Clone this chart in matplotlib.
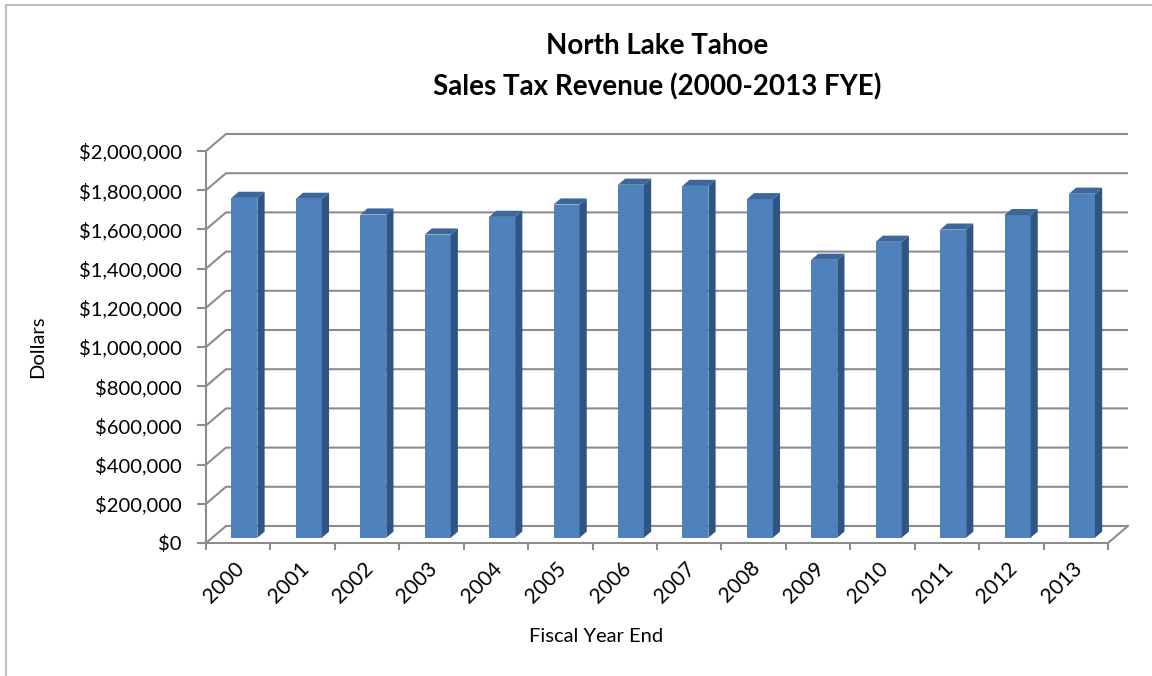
import matplotlib
matplotlib.use("Agg")
import matplotlib.pyplot as plt
from matplotlib.patches import Polygon, Rectangle
from matplotlib.transforms import ScaledTranslation
from matplotlib.ticker import FuncFormatter

plt.rcParams['font.family'] = ['Lato', 'DejaVu Sans']

# fiscal year end and sales tax revenue
years = ['2000', '2001', '2002', '2003', '2004', '2005', '2006',
         '2007', '2008', '2009', '2010', '2011', '2012', '2013']
revenue = [1734000, 1729000, 1649000, 1547000, 1637000, 1700000, 1801000,
           1795000, 1727000, 1418000, 1510000, 1572000, 1646000, 1755000]
yticks = list(range(0, 2000001, 200000))

W, H = 1152, 676
fig = plt.figure(figsize=(W / 100, H / 100), dpi=100)

# plot area in pixels: front plane from x=206..1108, y=543 (0) .. 151 ($2M)
x0px, catpx = 206.0, (1108 - 206) / 14.0
y0px, pxper = 543.0, (543 - 151) / 2000000.0
L, R, T, B = 206, 1132, 128, 551
ax = fig.add_axes([L / W, 1 - B / H, (R - L) / W, (B - T) / H])
ax.set_xlim((L - x0px) / catpx - 0.5, (R - x0px) / catpx - 0.5)
ax.set_ylim((y0px - B) / pxper, (y0px - T) / pxper)

# depth of the 3-D box in data units
DX = 20.0 / catpx
DY = 17.0 / pxper
grid_c = '#8c8c8c'

# gridlines on the side and back walls
for v in yticks:
    ax.plot([-0.5, -0.5 + DX, 13.5 + DX], [v, v + DY, v + DY],
            color=grid_c, lw=1.5, zorder=1, solid_capstyle='butt')
# floor right edge
ax.plot([13.5, 13.5 + DX], [0, DY], color=grid_c, lw=1.5, zorder=1)

# 3-D columns
bw = 26.0 / catpx
d0, d1 = 0.31, 0.67
front_c, side_c, top_c = '#4f81bd', '#2f5585', '#3d6699'
for i, v in enumerate(revenue):
    xl = i - bw / 2 + d0 * DX
    yb = d0 * DY
    ddx, ddy = (d1 - d0) * DX, (d1 - d0) * DY
    ax.add_patch(Rectangle((xl, yb), bw, v, facecolor=front_c,
                           edgecolor='none', zorder=3))
    ax.add_patch(Polygon([(xl + bw, yb), (xl + bw + ddx, yb + ddy),
                          (xl + bw + ddx, yb + v + ddy), (xl + bw, yb + v)],
                         closed=True, facecolor=side_c, edgecolor='none', zorder=3))
    ax.add_patch(Polygon([(xl, yb + v), (xl + bw, yb + v),
                          (xl + bw + ddx, yb + v + ddy), (xl + ddx, yb + v + ddy)],
                         closed=True, facecolor=top_c, edgecolor='none', zorder=3))

# axes lines and ticks
for s in ['top', 'right']:
    ax.spines[s].set_visible(False)
ax.spines['left'].set_bounds(0, 2000000)
ax.spines['bottom'].set_position(('data', 0))
ax.spines['bottom'].set_bounds(-0.5, 13.5)
for s in ['left', 'bottom']:
    ax.spines[s].set_color(grid_c)
    ax.spines[s].set_linewidth(1.5)
    ax.spines[s].set_zorder(2)

ax.set_yticks(yticks)
ax.yaxis.set_major_formatter(FuncFormatter(lambda v, p: '${:,.0f}'.format(v)))
ax.tick_params(axis='y', length=6.5, width=1.5, color=grid_c, pad=11,
               labelsize=14.5, labelcolor='black')
ax.set_xticks([i - 0.5 for i in range(15)])
ax.set_xticklabels([])
ax.tick_params(axis='x', length=5, width=1.5, color=grid_c)

off = ScaledTranslation(3 / 100, -22 / 100, fig.dpi_scale_trans)
for i, yr in enumerate(years):
    ax.text(i, 0, yr, transform=ax.transData + off, rotation=45,
            rotation_mode='anchor', ha='right', va='center', fontsize=15)

fig.text(596 / W, 1 - 637 / H, 'Fiscal Year End', ha='center', va='center',
         fontsize=14.5)
fig.text(38 / W, 1 - 347 / H, 'Dollars', ha='center', va='center',
         rotation=90, fontsize=14.5)
fig.text(657 / W, 1 - 46 / H, 'North Lake Tahoe', ha='center', va='center',
         fontsize=20, fontweight='bold')
fig.text(657 / W, 1 - 87 / H, 'Sales Tax Revenue (2000-2013 FYE)', ha='center',
         va='center', fontsize=20, fontweight='bold')

# chart area border
fig.patches.append(Rectangle((5.5 / W, -0.1), 1.2, 1.1 - 5.5 / H,
                             transform=fig.transFigure, fill=False,
                             edgecolor='#c0c0c0', lw=1.5))

fig.savefig('out.png', dpi=100)
